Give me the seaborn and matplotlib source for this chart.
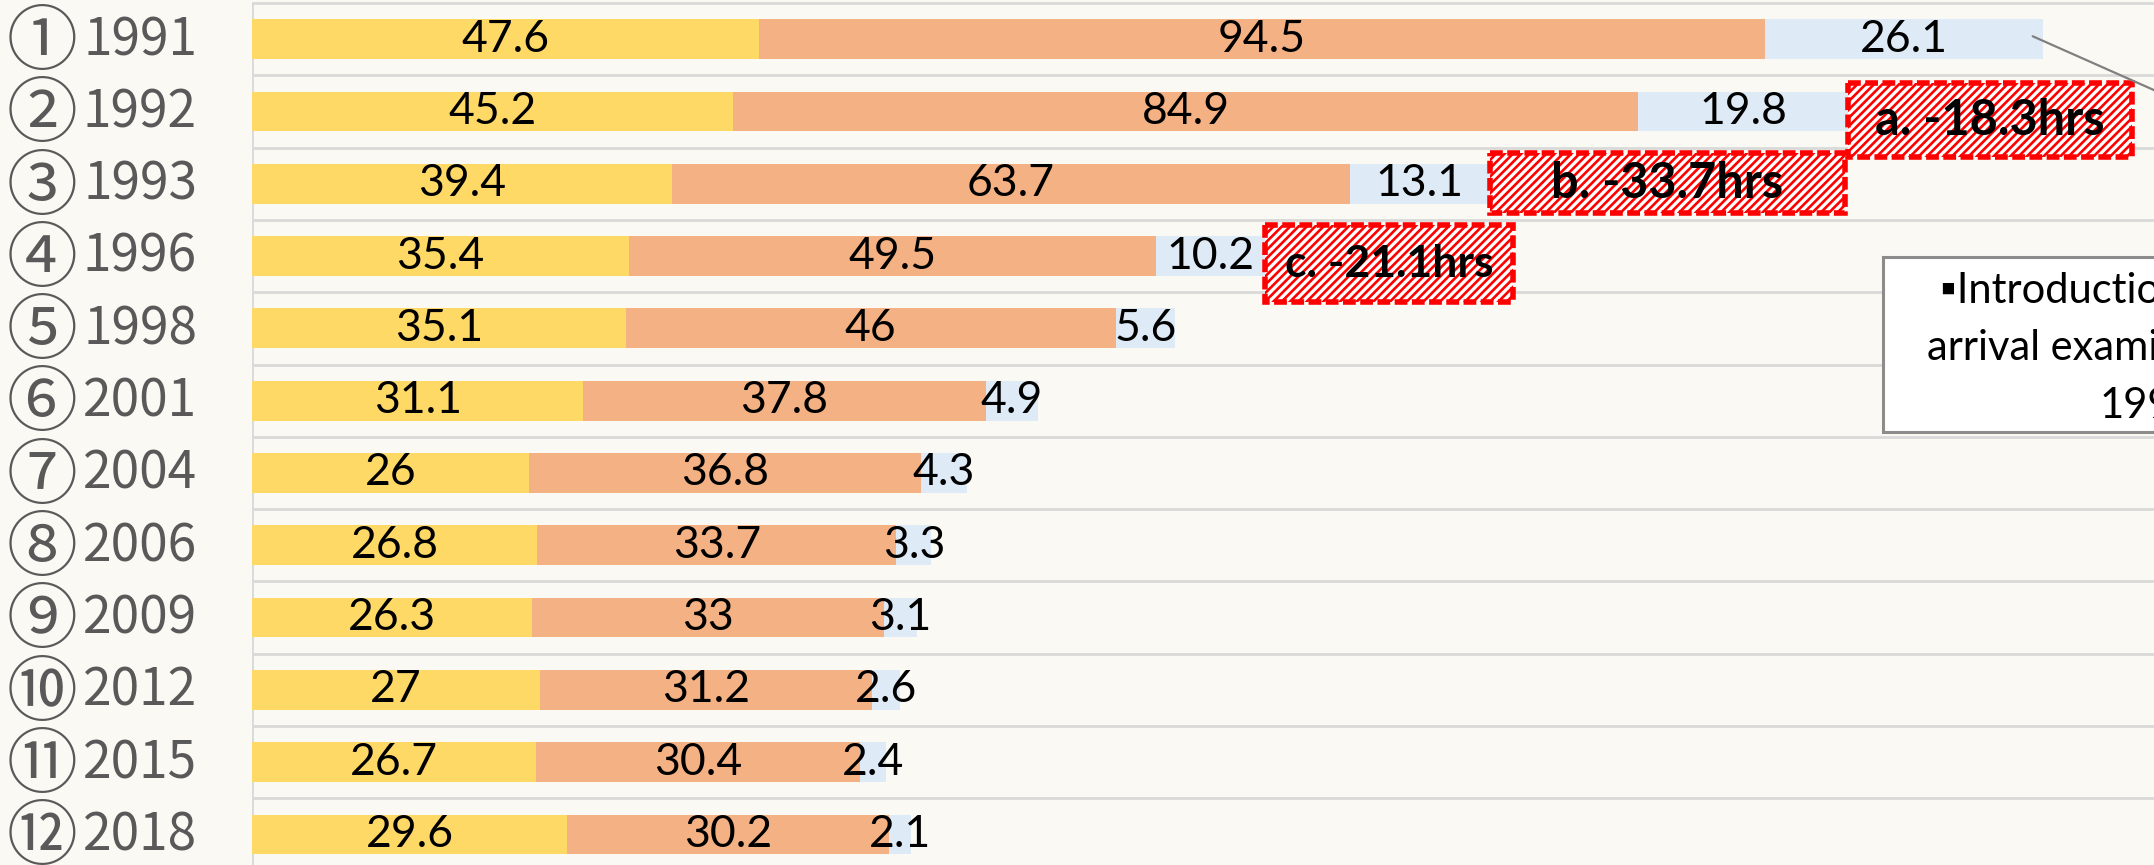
import matplotlib
matplotlib.use("Agg")
import matplotlib.pyplot as plt
import numpy as np
import seaborn as sns
from matplotlib.patches import Rectangle

# survey rounds (top to bottom)
years = ["1991", "1992", "1993", "1996", "1998", "2001",
         "2004", "2006", "2009", "2012", "2015", "2018"]
marks = ["①", "②", "③", "④", "⑤", "⑥", "⑦", "⑧", "⑨", "⑩", "⑪", "⑫"]

# hours per segment
part_1 = [47.6, 45.2, 39.4, 35.4, 35.1, 31.1, 26, 26.8, 26.3, 27, 26.7, 29.6]
part_2 = [94.5, 84.9, 63.7, 49.5, 46, 37.8, 36.8, 33.7, 33, 31.2, 30.4, 30.2]
part_3 = [26.1, 19.8, 13.1, 10.2, 5.6, 4.9, 4.3, 3.3, 3.1, 2.6, 2.4, 2.1]

# drop call-outs: letter and the row they sit after
drop_letters = ["a", "b", "c"]
drop_rows = [1, 2, 3]

note_lines = ["▪Introduction of pre-", "arrival examination", "1992~"]

c_yellow = "#FFD966"
c_orange = "#F4B183"
c_blue = "#DEEBF7"
bg = "#FBF9F4"

sns.set_style("white")
plt.rcParams["font.family"] = ["Lato", "Noto Sans CJK JP", "DejaVu Sans"]
plt.rcParams["hatch.linewidth"] = 1.9

p1 = np.array(part_1)
p2 = np.array(part_2)
p3 = np.array(part_3)
totals = p1 + p2 + p3

fig = plt.figure(figsize=(21.54, 8.65), dpi=100, facecolor=bg)
ax = fig.add_axes([252 / 2154, 0, 1 - 252 / 2154, 1])
ax.set_facecolor(bg)

# stacked bars: draw cumulative totals back to front
sns.barplot(x=totals, y=years, color=c_blue, saturation=1, width=0.55,
            orient="h", errorbar=None, linewidth=0, ax=ax, zorder=2)
sns.barplot(x=p1 + p2, y=years, color=c_orange, saturation=1, width=0.55,
            orient="h", errorbar=None, linewidth=0, ax=ax, zorder=2)
sns.barplot(x=p1, y=years, color=c_yellow, saturation=1, width=0.55,
            orient="h", errorbar=None, linewidth=0, ax=ax, zorder=2)

n = len(years)
for i in range(n):
    lefts = [0, p1[i], p1[i] + p2[i]]
    for left, v in zip(lefts, [p1[i], p2[i], p3[i]]):
        ax.text(left + v / 2, i, f"{v:g}", ha="center", va="center",
                fontsize=32, color="black", zorder=5)

# row labels: circled round number + year
ytrans = ax.get_yaxis_transform()
cjk = ["Noto Sans CJK JP", "DejaVu Sans"]
for i, (m, y) in enumerate(zip(marks, years)):
    ax.text(-0.1104, i + 0.06, m, transform=ytrans, ha="center", va="center",
            fontsize=51, color="#595959", family=cjk, clip_on=False)
    ax.text(-0.0289, i + 0.22, y, transform=ytrans, ha="right", va="baseline",
            fontsize=37, color="#595959", family=cjk, clip_on=False)

# row separators
for k in range(n + 1):
    ax.axhline(k - 0.5, color="#D9D9D9", lw=2, zorder=1)
ax.vlines(0, -0.5, n, color="#D9D9D9", lw=2, zorder=1)

# drop call-out boxes
box_w = [26.6, 33.4, 23.3]
box_top = [-0.39, -0.42, -0.43]
box_h = [1.02, 0.83, 1.07]
box_fs = [35, 35, 32]
for letter, r, w, t, h, fs in zip(drop_letters, drop_rows, box_w, box_top, box_h, box_fs):
    x0 = totals[r]
    diff = totals[r - 1] - totals[r]
    ax.add_patch(Rectangle((x0, r + t), w, h, facecolor="white", edgecolor="#FF0000",
                           hatch="////", lw=4, ls=(0, (2.3, 0.8)), zorder=6))
    ax.text(x0 + w / 2, r + t + h / 2, f"{letter}. -{diff:.1f}hrs", ha="center",
            va="center", fontsize=fs, fontweight="bold", color="black", zorder=7)

# note box on the right (cut off by the frame)
ax.add_patch(Rectangle((153.1, 3.02), 60, 2.42, facecolor="white",
                       edgecolor="#8C8C8C", lw=2.2, zorder=6))
note_x = [158.5, 157.3, 173.5]
note_y = [3.65, 4.44, 5.24]
for line, lx, ly in zip(note_lines, note_x, note_y):
    ax.text(lx, ly, line, ha="left", va="baseline", fontsize=30,
            color="black", zorder=7)
ax.plot([totals[0] - 1, 190], [-0.04, 1.45], color="#808080", lw=1.6, zorder=7)

ax.set_xlim(0, 1902 / 10.65)
ax.set_ylim(-0.5415 + 865 / 72.3, -0.5415)
ax.set_xlabel("")
ax.set_ylabel("")
ax.set_xticks([])
ax.set_yticks([])
sns.despine(ax=ax, left=True, bottom=True)

fig.savefig("out.png", dpi=100, facecolor=bg)
